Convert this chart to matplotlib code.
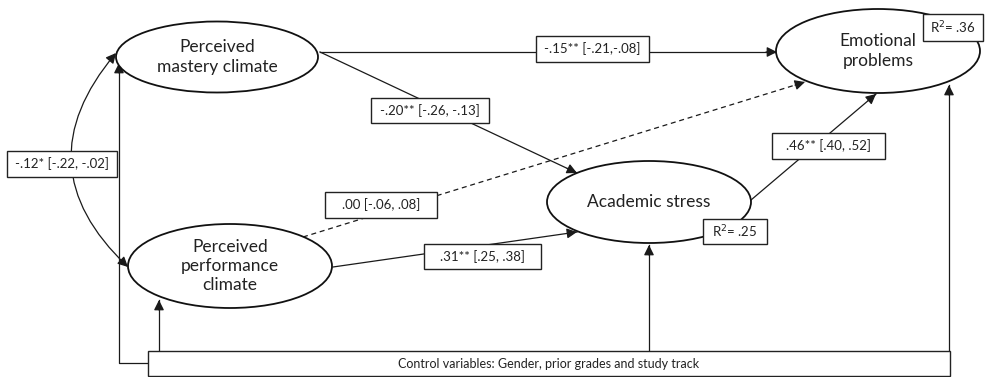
import matplotlib
matplotlib.use("Agg")
import matplotlib.pyplot as plt
from matplotlib.patches import Ellipse, Rectangle, FancyArrowPatch

plt.rcParams['font.family'] = ['Lato', 'DejaVu Sans']

# node labels
node_names = ["mastery", "performance", "stress", "emotional"]
node_labels = ["Perceived\nmastery climate",
               "Perceived\nperformance\nclimate",
               "Academic stress",
               "Emotional\nproblems"]

# path coefficients [95% CI]
path_labels = ["-.12* [-.22, -.02]",
               "-.15** [-.21,-.08]",
               "-.20** [-.26, -.13]",
               ".00 [-.06, .08]",
               ".31** [.25, .38]",
               ".46** [.40, .52]"]
r2_labels = ["R$^2$= .25", "R$^2$= .36"]
control_label = "Control variables: Gender, prior grades and study track"

# layout (pixel coords, y down)
node_geom = {
    "mastery":     (217, 57, 202, 71),
    "performance": (230, 266, 204, 84),
    "stress":      (649, 202, 204, 82),
    "emotional":   (878, 51, 204, 84),
}
box_geom = [(7, 151, 110, 26), (536, 36, 113, 26), (371, 98, 118, 25),
            (325, 192, 112, 26), (424, 244, 117, 25), (772, 133, 113, 26)]
r2_geom = [(703, 219, 64, 25), (923, 14, 60, 27)]
ctrl_geom = (148, 351, 802, 25)

W, H = 991, 377
fig = plt.figure(figsize=(W/100, H/100), dpi=100)
ax = fig.add_axes([0, 0, 1, 1])
ax.set_xlim(0, W)
ax.set_ylim(H, 0)
ax.axis('off')

lw = 0.9
def arrow(p0, p1, style='-|>', ls='-', rad=0.0):
    a = FancyArrowPatch(p0, p1, arrowstyle=style + ',head_length=0.6,head_width=0.3',
                        mutation_scale=10, shrinkA=0, shrinkB=0, lw=lw, color='#1a1a1a',
                        linestyle=ls, connectionstyle='arc3,rad=%s' % rad, zorder=2)
    ax.add_patch(a)

def line(xs, ys, ls='-'):
    ax.plot(xs, ys, color='#1a1a1a', lw=lw, ls=ls, zorder=2)

# paths
line([320, 776], [52, 52])
arrow((766, 52), (777, 52))
line([320, 577], [52, 173])
arrow((567, 168.3), (577, 173))
line([303, 805], [237, 82], ls=(0, (4, 3)))
arrow((795, 85.1), (805, 82))
line([333, 577], [267, 232])
arrow((567, 233.4), (577, 232))
line([751, 876], [200, 94])
arrow((868, 100.8), (876, 94))
# correlation
arrow((128, 267), (116, 53), style='<|-|>', rad=-0.47)

# control lines
line([148, 119, 119], [363, 363, 63])
arrow((119, 73), (119, 63))
line([159, 159], [351, 300])
arrow((159, 310), (159, 300))
line([649, 649], [351, 245])
arrow((649, 255), (649, 245))
line([949, 949], [351, 85])
arrow((949, 95), (949, 85))

# ellipses
for name, label in zip(node_names, node_labels):
    cx, cy, w, h = node_geom[name]
    ax.add_patch(Ellipse((cx, cy), w, h, facecolor='white', edgecolor='#111111',
                         lw=1.3, zorder=3))
    ax.text(cx, cy, label, ha='center', va='center', fontsize=12.5,
            color='#222222', linespacing=1.25, zorder=4)

def box(geom, text, fs=9.5):
    x, y, w, h = geom
    ax.add_patch(Rectangle((x, y), w, h, facecolor='white', edgecolor='#222222',
                           lw=1.0, zorder=5))
    ax.text(x + w/2, y + h/2, text, ha='center', va='center', fontsize=fs,
            color='#222222', zorder=6)

for g, t in zip(box_geom, path_labels):
    box(g, t)
for g, t in zip(r2_geom, r2_labels):
    box(g, t)
box(ctrl_geom, control_label, fs=9)

fig.savefig('out.png', dpi=100)
